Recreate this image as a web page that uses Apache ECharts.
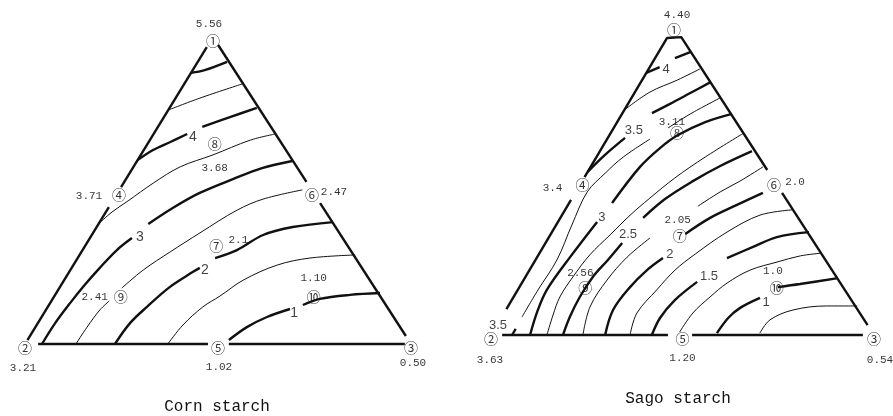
<!DOCTYPE html>
<html>
<head>
<meta charset="utf-8">
<script src="https://cdn.jsdelivr.net/npm/echarts@6/dist/echarts.min.js"></script>
<style>
html, body { margin: 0; padding: 0; background: #fff; }
#main { width: 893px; height: 416px; }
</style>
</head>
<body>
<div id="main"></div>
<script>
// mixture design: each point is [share of component 1 (top), share of component 3 (right)]
var designPoints = [[1, 0], [0, 0], [0, 1], [0.5, 0], [0, 0.5], [0.5, 0.5],
  [1 / 3, 1 / 3], [2 / 3, 1 / 6], [1 / 6, 1 / 6], [1 / 6, 2 / 3]];
var pointNames = ['①', '②', '③', '④', '⑤', '⑥', '⑦', '⑧', '⑨', '⑩'];

var cornValues = ['5.56', '3.21', '0.50', '3.71', '1.02', '2.47', '2.1', '3.68', '2.41', '1.10'];
var cornLevels = [5, 4.5, 4, 3.5, 3, 2.5, 2, 1.5, 1];
var cornLabelText = ['4', '3', '2', '1'];
var cornContours = [
  [[[0.883, 0], [0.892, 0.031], [0.919, 0.076]]],
  [[[0.762, 0], [0.801, 0.063], [0.847, 0.150]]],
  [[[0.599, 0], [0.632, 0.024], [0.658, 0.056], [0.684, 0.087]],
   [[0.707, 0.115], [0.739, 0.171], [0.769, 0.226]]],
  [[[0.391, 0], [0.430, 0.016], [0.466, 0.040], [0.524, 0.077], [0.577, 0.121], [0.616, 0.187], [0.664, 0.260], [0.684, 0.315]]],
  [[[0, 0.044], [0.068, 0.045], [0.134, 0.052], [0.192, 0.061], [0.248, 0.073], [0.306, 0.089], [0.345, 0.109]],
   [[0.391, 0.129], [0.443, 0.167], [0.492, 0.213], [0.537, 0.277], [0.573, 0.335], [0.596, 0.402]]],
  [[[0, 0.132], [0.055, 0.134], [0.111, 0.140], [0.140, 0.150]],
   [[0.182, 0.162], [0.241, 0.189], [0.300, 0.230], [0.362, 0.277], [0.436, 0.337], [0.472, 0.387], [0.502, 0.474]]],
  [[[0, 0.233], [0.068, 0.239], [0.121, 0.257], [0.186, 0.285], [0.235, 0.321], [0.248, 0.332]],
   [[0.280, 0.356], [0.306, 0.400], [0.355, 0.444], [0.381, 0.508], [0.397, 0.605]]],
  [[[0, 0.370], [0.062, 0.379], [0.121, 0.402], [0.156, 0.429], [0.208, 0.464], [0.257, 0.528], [0.280, 0.602], [0.290, 0.714]]],
  [[[0.013, 0.522], [0.055, 0.548], [0.088, 0.584], [0.114, 0.631]],
   [[0.127, 0.658], [0.147, 0.692], [0.160, 0.764], [0.166, 0.839]]]
];

// sago starch
var sagoValues = ['4.40', '3.63', '0.54', '3.4', '1.20', '2.0', '2.05', '3.11', '2.56', '1.0'];
var sagoLevels = [4, 3.75, 3.5, 3.25, 3, 2.75, 2.5, 2.25, 2, 1.75, 1.5, 1.25, 1, 0.75];
var sagoLabelText = ['4', '3.5', '3', '2.5', '2', '1.5', '1', '3.5'];
var sagoContours = [
  [[[0.848, 0], [0.867, 0.026]], [[0.896, 0.052], [0.916, 0.084]]],
  [[[0.728, 0], [0.786, 0.039], [0.825, 0.092], [0.861, 0.134]]],
  [[[0.528, 0], [0.583, 0.019], [0.638, 0.045]],
   [[0.718, 0.077], [0.748, 0.110], [0.783, 0.146], [0.819, 0.183]],
   [[0, 0.055], [0.02, 0.055]]],
  [[[0.058, 0.053], [0.146, 0.053], [0.243, 0.056], [0.356, 0.041], [0.463, 0.030], [0.524, 0.048], [0.576, 0.070], [0.634, 0.112]],
   [[0.670, 0.142], [0.715, 0.178], [0.767, 0.231]]],
  [[[0, 0.102], [0.074, 0.085], [0.146, 0.076], [0.252, 0.086], [0.366, 0.102]],
   [[0.427, 0.112], [0.544, 0.129], [0.605, 0.152], [0.647, 0.179], [0.689, 0.230], [0.715, 0.285]]],
  [[[0, 0.146], [0.065, 0.131], [0.123, 0.121], [0.188, 0.124], [0.259, 0.134], [0.324, 0.156], [0.388, 0.178], [0.443, 0.203], [0.508, 0.237], [0.576, 0.284], [0.654, 0.348]]],
  [[[0, 0.188], [0.058, 0.178], [0.123, 0.173], [0.188, 0.176], [0.243, 0.189], [0.298, 0.200]],
   [[0.379, 0.216], [0.440, 0.244], [0.498, 0.289], [0.547, 0.337], [0.595, 0.397]]],
  [[[0, 0.240], [0.091, 0.215], [0.178, 0.218], [0.252, 0.235], [0.314, 0.265]],
   [[0.417, 0.341], [0.463, 0.377], [0.498, 0.412], [0.544, 0.450]]],
  [[[0, 0.298], [0.081, 0.280], [0.155, 0.289], [0.210, 0.307], [0.249, 0.330]],
   [[0.327, 0.351], [0.379, 0.391], [0.421, 0.441], [0.460, 0.490]]],
  [[[0, 0.363], [0.071, 0.347], [0.146, 0.363], [0.210, 0.380], [0.262, 0.408], [0.333, 0.457], [0.388, 0.517], [0.405, 0.593]]],
  [[[0, 0.420], [0.055, 0.415], [0.113, 0.426], [0.172, 0.456]],
   [[0.249, 0.497], [0.285, 0.548], [0.317, 0.595], [0.333, 0.671]]],
  [[[0.010, 0.488], [0.071, 0.493], [0.123, 0.513], [0.168, 0.536], [0.210, 0.576], [0.236, 0.634], [0.256, 0.685], [0.265, 0.737]]],
  [[[0.006, 0.587], [0.055, 0.593], [0.087, 0.608], [0.120, 0.645]],
   [[0.155, 0.675], [0.165, 0.728], [0.184, 0.818]]],
  [[[0.006, 0.699], [0.049, 0.705], [0.081, 0.750], [0.094, 0.832], [0.094, 0.911]]]
];

var INK = '#111';

// layout of the two triangles (positions, gaps, label placement)
var charts = [
  {
    values: cornValues, levels: cornLevels, contours: cornContours, labelText: cornLabelText,
    thick: function (l) { return Number.isInteger(l); },
    grid: { left: 25, top: 37, width: 386, height: 307 },
    skew: 0.487,
    edges: { left: [[0.033, 0.489], [0.554, 0.987]], right: [[0.026, 0.472], [0.541, 0.974]], bottom: [[0.034, 0.474], [0.528, 0.984]] },
    cap: false,
    labelAt: [[0.674, 0.107], [0.349, 0.128], [0.241, 0.349], [0.101, 0.648]],
    labelSize: 14,
    valueOffset: [[-4, -13], [-2, 24], [2, 19], [-30, 6], [1, 23], [22, 2], [22, -2], [0, 29], [-26, 4], [0, -15]],
    title: 'Corn starch', titleAt: [217, 407]
  },
  {
    values: sagoValues, levels: sagoLevels, contours: sagoContours, labelText: sagoLabelText,
    thick: function (l) { return Number.isInteger(l * 2); },
    grid: { left: 491, top: 26, width: 383, height: 309 },
    skew: 0.478,
    edges: { left: [[0.039, 0.489], [0.563, 0.916]], right: [[0.036, 0.466], [0.540, 0.968]], bottom: [[0.029, 0.462], [0.525, 0.971]] },
    cap: true,
    labelAt: [[0.858, 0.047], [0.663, 0.056], [0.382, 0.107], [0.324, 0.203], [0.262, 0.342], [0.191, 0.478], [0.107, 0.667], [0.032, 0.003]],
    labelSize: 13,
    valueOffset: [[3, -11], [-1, 25], [6, 25], [-30, 8], [0, 23], [21, 2], [-2, -12], [-5, -7], [-5, -10], [-4, -12]],
    title: 'Sago starch', titleAt: [678, 399]
  }
];

function lerp(p, q, t) {
  return [p[0] + (q[0] - p[0]) * t, p[1] + (q[1] - p[1]) * t];
}

var V1 = [1, 0], V2 = [0, 0], V3 = [0, 1];
var grids = [], xAxes = [], yAxes = [], series = [], graphics = [];

charts.forEach(function (ch, gi) {
  grids.push(ch.grid);
  xAxes.push({ gridIndex: gi, type: 'value', min: 0, max: 1, show: false });
  yAxes.push({ gridIndex: gi, type: 'value', min: 0, max: 1, show: false });

  function xy(p) { return [p[1] + ch.skew * p[0], p[0]]; }
  function line(points, width, smooth) {
    series.push({
      type: 'line', xAxisIndex: gi, yAxisIndex: gi, data: points.map(xy),
      symbol: 'none', showSymbol: false, smooth: smooth, clip: false, silent: true,
      lineStyle: { color: INK, width: width }
    });
  }

  // triangle sides, broken where the point marks sit
  var ed = ch.edges;
  ed.bottom.forEach(function (s) { line([lerp(V2, V3, s[0]), lerp(V2, V3, s[1])], 2.4, false); });
  ed.left.forEach(function (s, j) {
    if (j === 0 && ch.cap) {
      line([lerp(V1, V2, s[1]), lerp(V1, V2, s[0]), lerp(V1, V3, ed.right[0][0]), lerp(V1, V3, ed.right[0][1])], 2.4, false);
    } else {
      line([lerp(V1, V2, s[0]), lerp(V1, V2, s[1])], 2.4, false);
    }
  });
  ed.right.forEach(function (s, j) {
    if (j === 0 && ch.cap) return;
    line([lerp(V1, V3, s[0]), lerp(V1, V3, s[1])], 2.4, false);
  });

  // contour lines
  ch.levels.forEach(function (lev, k) {
    ch.contours[k].forEach(function (piece) {
      line(piece, ch.thick(lev) ? 2.4 : 1, 0.35);
    });
  });

  // circled design point numbers
  series.push({
    type: 'scatter', xAxisIndex: gi, yAxisIndex: gi, symbolSize: 2, silent: true, clip: false,
    itemStyle: { color: 'rgba(0,0,0,0)' },
    data: designPoints.map(xy),
    label: {
      show: true, position: 'inside', offset: [0, 4], color: '#000',
      fontFamily: 'Noto Sans CJK SC', fontSize: 14,
      formatter: function (p) { return pointNames[p.dataIndex]; }
    }
  });

  // measured values next to each point
  series.push({
    type: 'scatter', xAxisIndex: gi, yAxisIndex: gi, symbolSize: 2, silent: true, clip: false,
    itemStyle: { color: 'rgba(0,0,0,0)' },
    data: designPoints.map(function (p, i) {
      return { value: xy(p), label: { offset: ch.valueOffset[i] } };
    }),
    label: {
      show: true, position: 'inside', color: '#000',
      fontFamily: 'Liberation Mono', fontSize: 11,
      formatter: function (p) { return ch.values[p.dataIndex]; }
    }
  });

  // contour level labels
  series.push({
    type: 'scatter', xAxisIndex: gi, yAxisIndex: gi, symbolSize: 2, silent: true, clip: false,
    itemStyle: { color: 'rgba(0,0,0,0)' },
    data: ch.labelAt.map(xy),
    label: {
      show: true, position: 'inside', color: INK,
      fontFamily: 'Liberation Sans', fontSize: ch.labelSize,
      formatter: function (p) { return ch.labelText[p.dataIndex]; }
    }
  });

  graphics.push({
    type: 'text', x: ch.titleAt[0], y: ch.titleAt[1], silent: true,
    style: {
      text: ch.title, fill: INK, fontFamily: 'Liberation Mono', fontSize: 16,
      align: 'center', verticalAlign: 'middle', textAlign: 'center', textVerticalAlign: 'middle'
    }
  });
});

var myChart = echarts.init(document.getElementById('main'));
myChart.setOption({
  backgroundColor: '#fff',
  animation: false,
  grid: grids,
  xAxis: xAxes,
  yAxis: yAxes,
  series: series,
  graphic: graphics
});
</script>
</body>
</html>
